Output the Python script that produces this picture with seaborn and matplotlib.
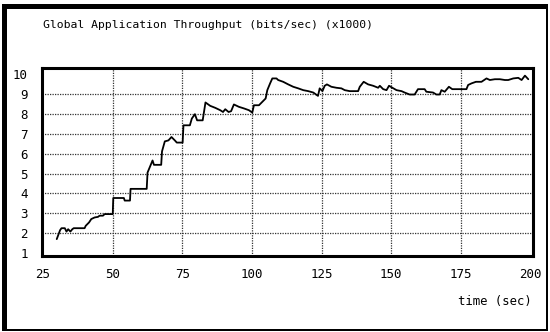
import matplotlib
matplotlib.use("Agg")
import matplotlib.pyplot as plt
from matplotlib.patches import Rectangle
import seaborn as sns
import pandas as pd

# ---- data ----
time_sec = [29.9, 31.1, 31.6, 32.8, 33.4, 34.0, 34.8, 35.5, 36.0, 39.9,
            40.3, 41.5, 42.3, 43.5, 44.7, 45.3, 46.5, 47.1, 50.0, 50.2,
            54.0, 54.3, 56.2, 56.4, 62.2, 62.5, 64.3, 64.8, 67.4, 67.7,
            68.7, 70.0, 71.1, 72.3, 73.0, 75.1, 75.4, 77.7, 78.4, 79.5,
            80.3, 82.3, 83.3, 85.0, 86.8, 88.6, 89.6, 90.4, 91.6, 92.5,
            93.5, 95.3, 97.1, 98.9, 100.1, 100.7, 102.5, 103.7, 104.9, 105.5,
            106.5, 107.3, 108.8, 109.4, 111.2, 113.0, 114.8, 116.6, 118.4, 120.2,
            122.0, 123.7, 124.3, 125.3, 126.1, 126.9, 128.5, 130.3, 132.1, 133.3,
            135.1, 138.1, 138.7, 140.1, 141.7, 143.5, 145.3, 145.9, 147.1, 148.3,
            149.2, 150.4, 151.9, 153.7, 154.8, 156.6, 158.4, 159.6, 162.0, 162.6,
            165.0, 166.2, 167.4, 168.0, 169.2, 170.7, 171.9, 177.0, 177.6, 178.8,
            180.4, 182.4, 184.2, 185.4, 187.2, 189.0, 190.8, 192.0, 193.8, 195.6,
            196.8, 198.0, 199.2]
throughput = [1.70, 2.15, 2.25, 2.25, 2.08, 2.20, 2.08, 2.20, 2.25, 2.25,
              2.37, 2.54, 2.71, 2.79, 2.82, 2.88, 2.88, 2.96, 2.96, 3.77,
              3.77, 3.64, 3.64, 4.23, 4.23, 5.05, 5.66, 5.44, 5.44, 6.12,
              6.62, 6.67, 6.84, 6.67, 6.56, 6.56, 7.43, 7.43, 7.77, 7.99,
              7.68, 7.68, 8.58, 8.41, 8.31, 8.19, 8.10, 8.24, 8.10, 8.14,
              8.48, 8.36, 8.28, 8.19, 8.07, 8.44, 8.44, 8.61, 8.78, 9.20,
              9.54, 9.79, 9.79, 9.71, 9.62, 9.49, 9.37, 9.29, 9.20, 9.15,
              9.08, 8.91, 9.29, 9.15, 9.42, 9.49, 9.37, 9.32, 9.29, 9.20,
              9.15, 9.15, 9.37, 9.62, 9.49, 9.42, 9.32, 9.42, 9.25, 9.20,
              9.42, 9.32, 9.20, 9.15, 9.08, 8.98, 8.98, 9.25, 9.25, 9.12,
              9.08, 8.98, 8.98, 9.20, 9.12, 9.37, 9.25, 9.25, 9.46, 9.54,
              9.62, 9.62, 9.79, 9.71, 9.75, 9.75, 9.71, 9.71, 9.79, 9.82,
              9.71, 9.93, 9.75]

x_ticks = [25, 50, 75, 100, 125, 150, 175, 200]
y_ticks = [1, 2, 3, 4, 5, 6, 7, 8, 9, 10]
x_grid = [50, 75, 100, 125, 150, 175]
y_grid = [2, 3, 4, 5, 6, 7, 8, 9]
title_text = "Global Application Throughput (bits/sec) (x1000)"
xlabel_text = "time (sec)"

df = pd.DataFrame({"time": time_sec, "throughput": throughput})

sns.set_style("white")
plt.rcParams["font.family"] = ["DejaVu Sans Mono"]

W, H = 550, 332
fig = plt.figure(figsize=(W / 100, H / 100), dpi=100)
fig.patch.set_facecolor("white")

ax = fig.add_axes([41.7 / W, 1 - 256 / H, (533.3 - 41.7) / W, (256 - 67.7) / H])
ax.set_facecolor("white")

for gx in x_grid:
    ax.axvline(gx, color="#333333", lw=0.9, ls=(0, (1, 1)), zorder=1)
for gy in y_grid:
    ax.axhline(gy, color="#333333", lw=0.9, ls=(0, (1, 1)), zorder=1)

sns.lineplot(data=df, x="time", y="throughput", ax=ax, color="black",
             linewidth=1.3, sort=False, zorder=3)

ax.set_xlim(24.5, 201)
ax.set_ylim(0.85, 10.33)
ax.set_xticks(x_ticks)
ax.set_yticks(y_ticks)
ax.set_xticklabels([str(v) for v in x_ticks], fontsize=9)
ax.set_yticklabels([str(v) for v in y_ticks], fontsize=9)
ax.tick_params(axis="both", length=0, colors="black")
ax.tick_params(axis="x", pad=9)
ax.tick_params(axis="y", pad=10)
ax.set_xlabel("")
ax.set_ylabel("")
for s in ax.spines.values():
    s.set_visible(True)
    s.set_color("black")
    s.set_linewidth(2.2)

fig.text(43 / W, 1 - 25 / H, title_text, ha="left", va="center",
         fontsize=8.2, color="black")
fig.text(532 / W, 1 - 302 / H, xlabel_text, ha="right", va="center",
         fontsize=8.8, color="black")

# outer frame of the picture
def frame(x0, y0, x1, y1):
    fig.add_artist(Rectangle((x0 / W, 1 - y1 / H), (x1 - x0) / W, (y1 - y0) / H,
                             transform=fig.transFigure, facecolor="black",
                             edgecolor="none"))

frame(2, 4, 548, 9)      # top
frame(2, 4, 7, 331)      # left
frame(546, 4, 548, 331)  # right
frame(2, 329, 548, 331)  # bottom

fig.savefig("out.png", dpi=100)
